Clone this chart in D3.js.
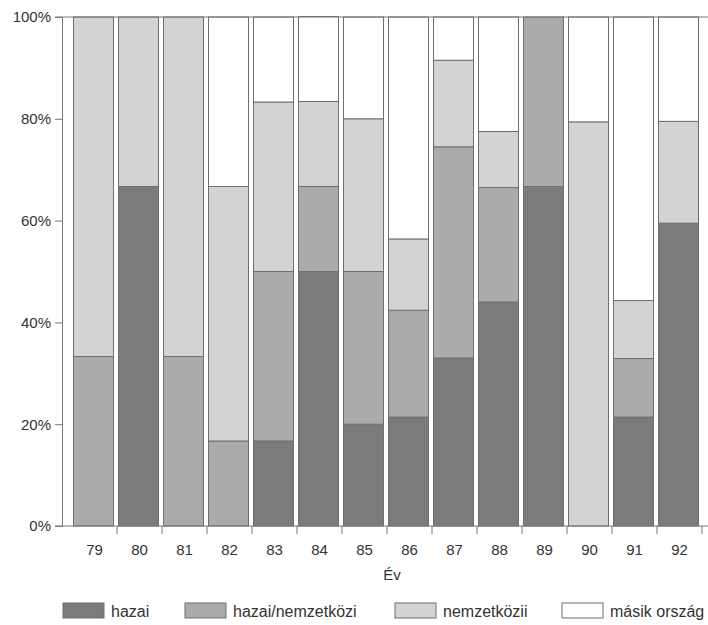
<!DOCTYPE html>
<html>
<head>
<meta charset="utf-8">
<script src="https://cdn.jsdelivr.net/npm/d3@7"></script>
<style>
  html, body { margin: 0; padding: 0; background: #fff; }
  svg { display: block; font-family: "Liberation Sans", Arial, sans-serif; }
</style>
</head>
<body>
<svg id="chart" width="708" height="625"></svg>
<script>
const years = ["79","80","81","82","83","84","85","86","87","88","89","90","91","92"];
const hazai      = [0, 66.7, 0, 0, 16.7, 50, 20, 21.4, 33, 44, 66.7, 0, 21.4, 59.5];
const hazaiNemz  = [33.3, 0, 33.3, 16.7, 33.3, 16.7, 30, 21, 41.5, 22.5, 33.3, 0, 11.5, 0];
const nemzetkozi = [66.7, 33.3, 66.7, 50, 33.3, 16.7, 30, 14, 17, 11, 0, 79.4, 11.4, 20];
const masik      = [0, 0, 0, 33.3, 16.7, 16.7, 20, 43.6, 8.5, 22.5, 0, 20.6, 55.7, 20.5];
const seriesNames = ["hazai", "hazai/nemzetközi", "nemzetközii", "másik ország"];
const yTicks = [0, 20, 40, 60, 80, 100];
const xTitle = "Év";

const keys = ["hazai", "hazaiNemz", "nemzetkozi", "masik"];
const colors = ["#7b7b7b", "#ababab", "#d3d3d3", "#ffffff"];

const rows = years.map((y, i) => ({
  year: y, hazai: hazai[i], hazaiNemz: hazaiNemz[i], nemzetkozi: nemzetkozi[i], masik: masik[i]
}));

const svg = d3.select("#chart");
const x = d3.scaleBand().domain(years).range([72, 702]).padding(0);
const y = d3.scaleLinear().domain([0, 100]).range([526, 17]);

const stacked = d3.stack().keys(keys)(rows);

const gBars = svg.append("g");
stacked.forEach((layer, li) => {
  gBars.selectAll(null)
    .data(layer.filter(d => d[1] - d[0] > 0))
    .join("rect")
    .attr("x", d => x(d.data.year) + 1.5)
    .attr("width", x.step() - 5)
    .attr("y", d => y(d[1]))
    .attr("height", d => y(d[0]) - y(d[1]))
    .attr("fill", colors[li])
    .attr("stroke", "#6f6f6f")
    .attr("stroke-width", 1);
});

// top line
svg.append("line")
  .attr("x1", 55).attr("x2", 708)
  .attr("y1", y(100)).attr("y2", y(100))
  .attr("stroke", "#777").attr("stroke-width", 1);

// y axis
const yAxis = d3.axisLeft(y).tickValues(yTicks).tickFormat(d => d + "%").tickSize(7).tickPadding(4);
const gy = svg.append("g").attr("transform", "translate(62,0)").call(yAxis);
gy.select(".domain").attr("stroke", "#777");
gy.selectAll(".tick line").attr("stroke", "#777");
gy.selectAll(".tick text").attr("font-size", 15).attr("fill", "#333")
  .attr("font-family", "'Liberation Sans', Arial, sans-serif");

// x axis baseline
svg.append("line")
  .attr("x1", 55).attr("x2", 708)
  .attr("y1", y(0)).attr("y2", y(0))
  .attr("stroke", "#777").attr("stroke-width", 1.2);

// x axis labels
const xAxis = d3.axisBottom(x).tickSize(0).tickPadding(18);
const gx = svg.append("g").attr("transform", `translate(0,${y(0)})`).call(xAxis);
gx.select(".domain").remove();
gx.selectAll(".tick text").attr("font-size", 15).attr("fill", "#333")
  .attr("font-family", "'Liberation Sans', Arial, sans-serif");

// separator ticks between bands
svg.append("g").selectAll("line")
  .data(years)
  .join("line")
  .attr("x1", d => x(d) + x.step()).attr("x2", d => x(d) + x.step())
  .attr("y1", y(0)).attr("y2", y(0) + 8)
  .attr("stroke", "#777");

// x title
svg.append("text")
  .attr("x", 392).attr("y", 580)
  .attr("text-anchor", "middle")
  .attr("font-size", 15).attr("fill", "#333")
  .text(xTitle);

// legend
const legendX = [63, 185, 395, 562];
const legend = svg.append("g");
seriesNames.forEach((name, i) => {
  legend.append("rect")
    .attr("x", legendX[i]).attr("y", 603)
    .attr("width", 41).attr("height", 15)
    .attr("fill", colors[i]).attr("stroke", "#6f6f6f");
  legend.append("text")
    .attr("x", legendX[i] + 48).attr("y", 617)
    .attr("font-size", 16).attr("fill", "#333")
    .text(name);
});
</script>
</body>
</html>
